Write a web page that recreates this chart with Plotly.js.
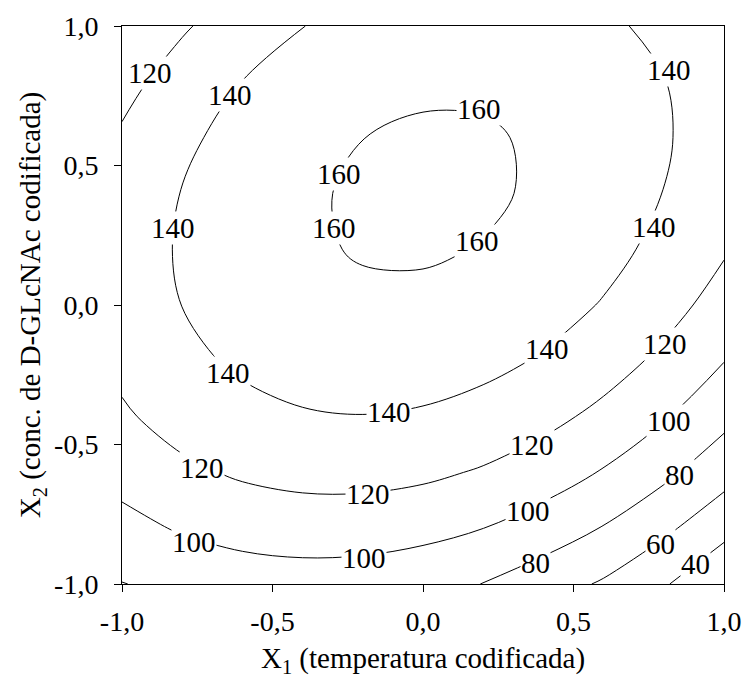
<!DOCTYPE html>
<html>
<head>
<meta charset="utf-8">
<script src="https://cdn.plot.ly/plotly-3.0.1.min.js"></script>
<style>
  html, body { margin: 0; padding: 0; background: #ffffff; }
  #chart { width: 745px; height: 679px; }
</style>
</head>
<body>
<div id="chart"></div>
<script>
var x1Values = [-1.0, -0.8, -0.6, -0.4, -0.2, 0.0, 0.2, 0.4, 0.6, 0.8, 1.0];
var x2Values = [-1.0, -0.8, -0.6, -0.4, -0.2, 0.0, 0.2, 0.4, 0.6, 0.8, 1.0];

// Response values estimated from the contour picture, one row per X2 level
var responseRows = [
  [79.5, 84.7, 89.4, 91.1, 90.0, 85.9, 79.7, 69.0, 57.8, 42.0, 21.9],
  [93.7, 102.0, 107.5, 110.0, 109.6, 106.3, 100.1, 91.0, 79.0, 64.1, 46.2],
  [107.1, 116.3, 122.5, 125.8, 126.2, 123.7, 118.2, 109.9, 98.6, 84.5, 67.4],
  [117.5, 127.4, 134.4, 138.4, 139.6, 137.9, 133.2, 125.6, 115.1, 101.7, 85.4],
  [124.7, 135.4, 143.1, 148.0, 149.9, 148.9, 145.1, 138.3, 128.5, 115.9, 100.4],
  [128.8, 140.2, 148.8, 154.4, 157.1, 156.9, 153.8, 147.8, 138.8, 127.0, 112.6],
  [129.8, 142.0, 151.3, 157.7, 161.2, 161.7, 159.4, 154.1, 146.0, 134.9, 121.8],
  [127.6, 140.6, 150.7, 157.9, 162.1, 163.5, 162.1, 158.0, 150.0, 139.7, 126.5],
  [122.4, 136.1, 147.0, 154.9, 159.9, 162.1, 161.6, 158.0, 150.9, 142.0, 128.9],
  [114.0, 128.5, 140.2, 148.9, 154.7, 157.5, 157.5, 154.6, 148.7, 140.6, 128.3],
  [102.5, 117.8, 130.2, 139.7, 146.2, 149.9, 150.6, 148.5, 143.4, 135.4, 124.5]
];

// Contour levels drawn
var levelStart = 40;
var levelEnd = 160;
var levelStep = 20;

// Contour-label texts and where they sit (placement only)
var labelTexts = ['120', '140', '140', '160', '160', '160', '160', '140', '140', '140', '140', '140',
                  '120', '120', '120', '120', '100', '100', '100', '100', '80', '80', '60', '40'];
var labelX1 = [-0.906, -0.641, -0.832, -0.279, -0.295, 0.186, 0.181, 0.817, 0.767, -0.647, -0.113, 0.411,
               0.803, -0.735, -0.183, 0.361, 0.817, -0.760, -0.196, 0.349, 0.853, 0.375, 0.790, 0.906];
var labelX2 = [0.830, 0.751, 0.276, 0.468, 0.276, 0.704, 0.228, 0.841, 0.281, -0.242, -0.384, -0.156,
               -0.138, -0.586, -0.676, -0.500, -0.414, -0.851, -0.907, -0.740, -0.608, -0.925, -0.858, -0.930];

// Axis tick values and labels
var tickValues = [-1.0, -0.5, 0.0, 0.5, 1.0];
var tickLabels = ['-1,0', '-0,5', '0,0', '0,5', '1,0'];

// Axis titles
var xTitle = 'X<sub>1</sub> (temperatura codificada)';
var yTitle = 'X<sub>2</sub> (conc. de D-GLcNAc codificada)';

var FONT = 'Liberation Serif, Times New Roman, serif';

var trace = {
  type: 'contour',
  x: x1Values,
  y: x2Values,
  z: responseRows,
  autocontour: false,
  contours: {
    start: levelStart,
    end: levelEnd,
    size: levelStep,
    coloring: 'none',
    showlabels: false
  },
  line: { color: '#000000', width: 1, smoothing: 1 },
  showscale: false,
  hoverinfo: 'skip'
};

var annotations = labelTexts.map(function (t, i) {
  return {
    x: labelX1[i], y: labelX2[i], xref: 'x', yref: 'y',
    text: t, showarrow: false,
    bgcolor: '#ffffff', borderpad: 0,
    font: { family: FONT, size: 29, color: '#000000' }
  };
});

// x-axis title placed as a paper annotation so it can sit low in the margin
annotations.push({
  text: xTitle, showarrow: false,
  xref: 'paper', x: 0.5, xanchor: 'center',
  yref: 'paper', y: 0, yanchor: 'top', yshift: -56,
  font: { family: FONT, size: 29, color: '#000000' }
});

var axisCommon = {
  range: [-1, 1],
  tickmode: 'array',
  tickvals: tickValues,
  ticktext: tickLabels,
  ticks: 'outside',
  ticklen: 7,
  tickwidth: 1,
  tickcolor: '#000000',
  showline: true,
  linecolor: '#000000',
  linewidth: 1,
  mirror: true,
  showgrid: false,
  zeroline: false,
  tickfont: { family: FONT, size: 28, color: '#000000' },
  automargin: false
};

var layout = {
  width: 745,
  height: 679,
  margin: { l: 122, r: 21, t: 26, b: 95, pad: 0 },
  paper_bgcolor: '#ffffff',
  plot_bgcolor: '#ffffff',
  showlegend: false,
  font: { family: FONT, color: '#000000' },
  xaxis: Object.assign({}, axisCommon, {
    ticklabelstandoff: 5
  }),
  yaxis: Object.assign({}, axisCommon, {
    ticklabelstandoff: 10,
    title: { text: yTitle, font: { family: FONT, size: 29, color: '#000000' }, standoff: 4 }
  }),
  annotations: annotations
};

Plotly.newPlot('chart', [trace], layout, { staticPlot: true, displayModeBar: false });
</script>
</body>
</html>
